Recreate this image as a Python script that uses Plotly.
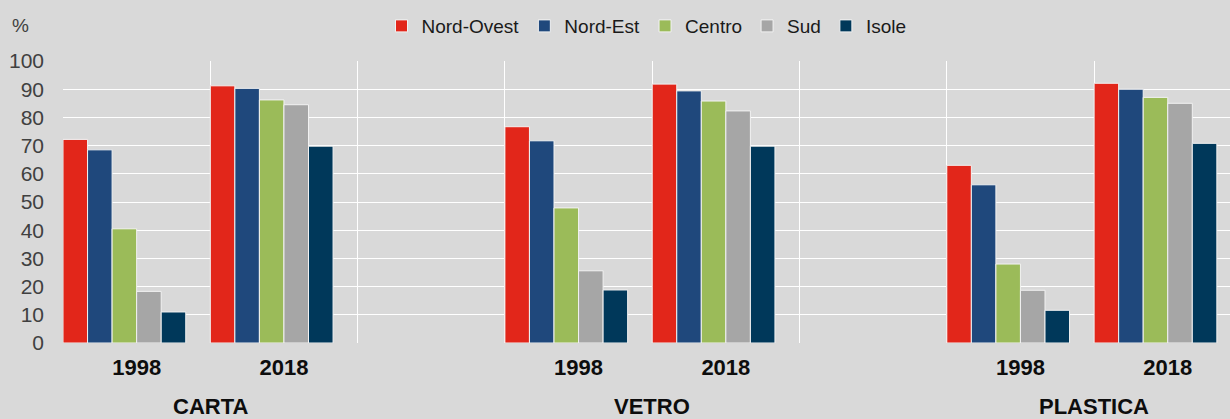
import plotly.graph_objects as go

# ---- data ----
materials = ["CARTA", "VETRO", "PLASTICA"]
years = ["1998", "2018"]
regions = ["Nord-Ovest", "Nord-Est", "Centro", "Sud", "Isole"]
colors = ["#E2261A", "#1F487C", "#9BBB59", "#A6A6A6", "#00385A"]

# values per region, ordered: CARTA 1998, CARTA 2018, VETRO 1998, VETRO 2018, PLASTICA 1998, PLASTICA 2018
nord_ovest = [72.2, 91.2, 76.7, 91.8, 63.0, 92.1]
nord_est = [68.5, 90.3, 71.7, 89.4, 56.1, 90.0]
centro = [40.5, 86.2, 47.9, 85.8, 28.0, 87.1]
sud = [18.3, 84.5, 25.6, 82.3, 18.7, 85.0]
isole = [11.0, 69.8, 18.8, 69.8, 11.6, 70.8]
series = [nord_ovest, nord_est, centro, sud, isole]

# ---- layout helpers ----
W, H = 1230, 419
ML, MR, MT, MB = 63, 0, 61, 76
cat_px = 147.3
plot_w = W - ML - MR
x_pos = [m * 3 + y for m in range(len(materials)) for y in range(len(years))]
tick_text = [yr for _ in materials for yr in years]
slot = 1 / 6
BG = "#D9D9D9"
FONT = "Liberation Sans, Arial, sans-serif"

fig = go.Figure()
for i, (name, vals) in enumerate(zip(regions, series)):
    fig.add_bar(
        x=x_pos, y=vals, name=name,
        marker=dict(color=colors[i], line=dict(color="#F2F2F2", width=1)),
        offset=-0.5 + i * slot, width=slot,
    )

annotations = [
    dict(x=m * 3 + 0.5, y=0, xref="x", yref="paper", text=mat, showarrow=False,
         yanchor="middle", yshift=-63,
         font=dict(family=FONT, size=22, color="#0D0D0D", weight="bold"))
    for m, mat in enumerate(materials)
]
annotations.append(dict(x=0, y=1, xref="paper", yref="paper", text="%", showarrow=False,
                        xanchor="center", yanchor="middle", xshift=-43, yshift=36,
                        font=dict(family=FONT, size=19, color="#404040")))

fig.update_layout(
    width=W, height=H,
    margin=dict(l=ML, r=MR, t=MT, b=MB),
    paper_bgcolor=BG, plot_bgcolor=BG,
    barmode="overlay",
    font=dict(family=FONT, color="#1A1A1A"),
    legend=dict(orientation="h", x=0.5, xanchor="center", y=1.124, yanchor="middle",
                font=dict(family=FONT, size=19, color="#1A1A1A"),
                bgcolor="rgba(0,0,0,0)", itemwidth=30, traceorder="normal"),
    xaxis=dict(
        range=[-0.5, -0.5 + plot_w / cat_px],
        tickmode="array", tickvals=x_pos, ticktext=tick_text,
        tickfont=dict(family=FONT, size=22, color="#0D0D0D", weight="bold"),
        showgrid=False, zeroline=False, showline=False, ticks="",
        ticklabelstandoff=9,
        minor=dict(tickmode="array", tickvals=[k - 0.5 for k in range(9)],
                   showgrid=True, gridcolor="white", gridwidth=1),
    ),
    yaxis=dict(
        range=[0, 100], tickmode="array", tickvals=list(range(0, 101, 10)),
        tickfont=dict(family=FONT, size=21, color="#404040"),
        showgrid=True, gridcolor="white", gridwidth=1,
        zeroline=True, zerolinecolor=BG, zerolinewidth=1,
        showline=False, ticks="", ticklabelstandoff=18,
    ),
    annotations=annotations,
    showlegend=True,
)

fig.write_html("out.html", config={"displayModeBar": False},
               post_script="document.body.style.margin='0px';document.body.style.padding='0px';")
